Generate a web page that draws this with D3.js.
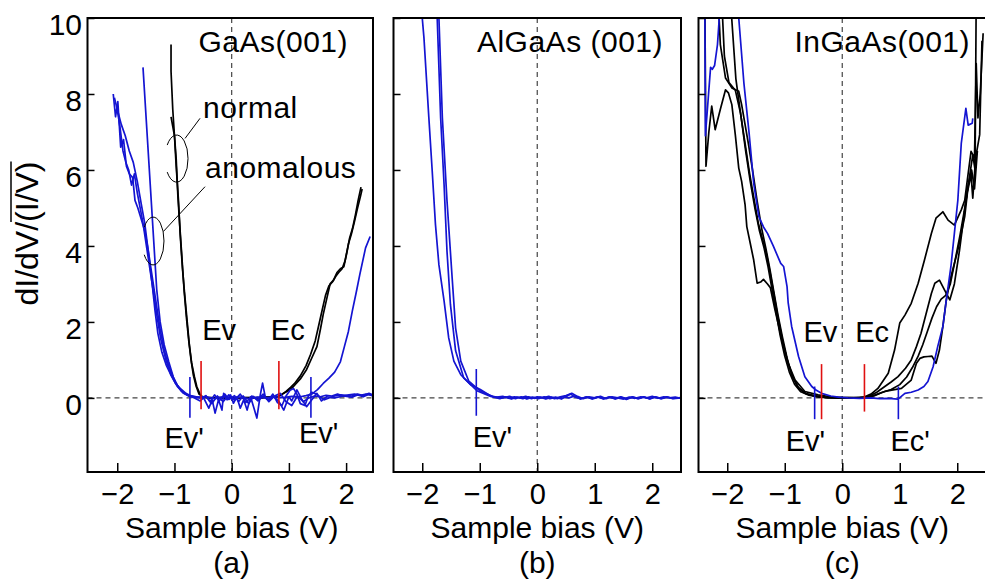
<!DOCTYPE html>
<html><head><meta charset="utf-8">
<script src="https://cdn.jsdelivr.net/npm/d3@7"></script>
<style>
body{margin:0;background:#fff}
svg{display:block}
text{font-family:"Liberation Sans",Arial,Helvetica,sans-serif;fill:#000}
</style>
</head><body>
<svg id="chart" width="985" height="584"></svg>
<script>
// ---------------- DATA ----------------
const xTicks = [-2, -1, 0, 1, 2];
const yTicks = [0, 2, 4, 6, 8, 10];
const panelTitles = ["GaAs(001)", "AlGaAs (001)", "InGaAs(001)"];
const panelLetters = ["(a)", "(b)", "(c)"];
const xLabel = "Sample bias (V)";
const yLabelPlain = "dI/dV/";
const yLabelOver = "(I/V)";

// Panel (a) GaAs(001)
const gaasBlue1 = [[-2.0,7.6],[-1.93,7.2],[-1.86,6.9],[-1.79,6.5],[-1.72,6.2],[-1.65,5.7],[-1.58,5.1],[-1.52,4.6],[-1.47,4.0],[-1.43,3.5],[-1.39,3.0],[-1.34,2.3],[-1.29,1.7],[-1.22,1.2],[-1.14,0.85],[-1.06,0.6],[-0.98,0.38],[-0.9,0.25],[-0.8,0.12],[-0.72,0.06],[-0.6,0.02],[-0.45,0.03],[-0.3,-0.02],[-0.15,0.03],[0.0,-0.01],[0.15,0.02],[0.3,-0.02],[0.45,0.02],[0.6,0.0],[0.75,0.03],[0.9,0.01],[1.05,0.04],[1.2,0.03],[1.3,0.06],[1.4,0.1],[1.5,0.22],[1.6,0.38],[1.7,0.52],[1.8,0.68],[1.9,0.95],[1.97,1.35],[2.04,1.75],[2.11,2.3],[2.18,2.8],[2.24,3.25],[2.29,3.6],[2.34,3.95],[2.42,4.25]];
const gaasBlue2 = [[-1.55,8.7],[-1.31,2.85],[-1.25,2.0],[-1.18,1.4],[-1.1,0.95],[-1.02,0.55],[-0.93,0.28],[-0.83,0.12],[-0.73,0.04],[-0.6,0.02],[-0.49,0.0],[-0.4,-0.27],[-0.34,-0.05],[-0.29,-0.4],[-0.23,-0.05],[-0.17,-0.32],[-0.14,0.12],[-0.08,-0.05],[-0.02,0.08],[0.03,-0.14],[0.09,0.03],[0.15,-0.27],[0.21,-0.05],[0.27,-0.32],[0.33,0.03],[0.39,-0.27],[0.44,-0.53],[0.5,0.08],[0.54,0.39],[0.59,0.0],[0.65,-0.05],[0.73,0.03],[0.82,-0.08],[0.91,-0.32],[1.0,0.03],[1.05,-0.08],[1.14,0.21],[1.23,-0.05],[1.31,-0.23],[1.4,-0.05],[1.49,0.12],[1.57,-0.08],[1.66,0.03],[1.8,0.0],[1.95,0.05],[2.1,0.02],[2.2,0.08],[2.3,0.03],[2.4,0.1],[2.47,0.05]];
const gaasBlue3 = [[-2.07,8.0],[-2.03,7.4],[-1.99,7.8],[-1.94,6.6],[-1.89,6.8],[-1.84,6.1],[-1.79,5.9],[-1.73,5.8],[-1.69,5.2],[-1.64,5.0],[-1.58,4.7],[-1.52,4.4],[-1.46,3.9],[-1.40,3.3],[-1.33,2.6],[-1.25,1.8],[-1.17,1.2],[-1.08,0.75],[-0.98,0.4],[-0.88,0.18],[-0.78,0.08],[-0.65,0.02],[-0.55,0.0],[-0.45,0.05],[-0.38,-0.1],[-0.3,0.08],[-0.22,-0.08],[-0.12,0.1],[-0.05,-0.04],[0.05,0.06],[0.12,-0.1],[0.2,0.05],[0.3,-0.15],[0.38,0.04],[0.46,-0.08],[0.55,0.05],[0.64,-0.06],[0.72,0.1],[0.8,-0.12],[0.88,-0.2],[0.95,0.05],[1.02,0.2],[1.08,0.25],[1.14,0.1],[1.2,-0.15],[1.28,-0.2],[1.34,0.05],[1.4,0.15],[1.48,0.1],[1.55,0.02],[1.62,-0.05],[1.7,0.0],[1.8,0.05],[1.9,0.08],[2.0,0.07],[2.1,0.05],[2.2,0.1],[2.3,0.06],[2.4,0.12],[2.47,0.08]];
const gaasBlue4 = [[-2.05,7.9],[-2.0,7.6],[-1.95,7.1],[-1.9,6.5],[-1.85,6.2],[-1.8,6.0],[-1.75,5.6],[-1.7,5.9],[-1.65,5.4],[-1.6,5.0],[-1.55,4.6],[-1.5,4.1],[-1.44,3.5],[-1.38,2.9],[-1.31,2.2],[-1.24,1.55],[-1.15,1.0],[-1.06,0.6],[-0.95,0.3],[-0.85,0.13],[-0.75,0.05],[-0.65,0.0],[-0.55,-0.08],[-0.45,0.06],[-0.35,-0.15],[-0.25,0.05],[-0.15,-0.1],[-0.05,0.08],[0.05,-0.06],[0.15,0.1],[0.25,-0.12],[0.35,0.05],[0.45,-0.05],[0.55,0.1],[0.65,-0.1],[0.75,0.05],[0.85,0.12],[0.95,-0.1],[1.05,-0.2],[1.15,0.05],[1.25,-0.1],[1.35,0.0],[1.45,0.05],[1.55,0.03],[1.65,0.07],[1.75,0.05],[1.85,0.1],[1.95,0.05],[2.05,0.08],[2.15,0.1],[2.25,0.07],[2.35,0.1],[2.47,0.06]];
const gaasBlack1 = [[-1.06,9.3],[-1.06,8.6],[-1.03,7.6],[-1.0,6.9],[-0.97,6.1],[-0.93,5.2],[-0.9,4.3],[-0.86,3.4],[-0.82,2.7],[-0.78,2.05],[-0.74,1.4],[-0.7,0.92],[-0.65,0.55],[-0.61,0.3],[-0.56,0.12],[-0.52,0.03],[-0.4,0.0],[-0.2,0.01],[0.0,0.0],[0.2,0.01],[0.4,0.0],[0.6,0.02],[0.75,0.02],[0.81,0.03],[0.91,0.12],[1.0,0.2],[1.08,0.3],[1.2,0.5],[1.31,0.75],[1.4,1.05],[1.49,1.35],[1.55,1.8],[1.6,2.2],[1.66,2.6],[1.72,3.0],[1.78,3.1],[1.84,3.3],[1.9,3.4],[1.96,3.45],[2.01,3.8],[2.06,4.2],[2.11,4.45],[2.16,4.8],[2.21,5.2],[2.26,5.55]];
const gaasBlack2 = [[-1.06,7.4],[-1.03,7.15],[-1.0,6.9],[-0.97,6.3],[-0.94,5.3],[-0.91,4.6],[-0.87,3.7],[-0.83,2.8],[-0.79,2.1],[-0.75,1.5],[-0.71,1.0],[-0.67,0.6],[-0.62,0.3],[-0.57,0.1],[-0.5,0.02],[-0.3,0.0],[-0.1,0.01],[0.1,0.0],[0.3,0.01],[0.5,0.0],[0.7,0.02],[0.8,0.03],[0.88,0.1],[0.95,0.17],[1.03,0.28],[1.1,0.38],[1.2,0.58],[1.3,0.85],[1.38,1.15],[1.46,1.5],[1.52,1.9],[1.58,2.3],[1.64,2.7],[1.7,2.95],[1.76,3.05],[1.82,3.2],[1.87,3.3],[1.93,3.4],[1.98,3.6],[2.04,4.05],[2.09,4.3],[2.14,4.6],[2.2,5.0],[2.25,5.3],[2.28,5.5]];
const gaasMarkers = [{x:-0.73,kind:"prime",y0:-0.52,y1:0.55},{x:-0.535,kind:"band",y0:-0.3,y1:0.97},{x:0.825,kind:"band",y0:-0.3,y1:0.97},{x:1.385,kind:"prime",y0:-0.52,y1:0.55}];
const gaasLabels = [{t:"Ev",x:-0.22,y:1.53},{t:"Ec",x:0.98,y:1.53},{t:"Ev'",x:-0.83,y:-1.32},{t:"Ev'",x:1.52,y:-1.18}];

// Panel (b) AlGaAs(001)
const algaasBlue1 = [[-2.0,10.0],[-1.97,9.47],[-1.885,7.37],[-1.83,6.05],[-1.77,4.56],[-1.71,3.5],[-1.62,2.55],[-1.54,1.58],[-1.45,0.97],[-1.33,0.61],[-1.16,0.35],[-0.99,0.22],[-0.81,0.05],[-0.7,0.02],[-0.6,0.04],[-0.5,-0.01],[-0.4,0.03],[-0.3,0.0],[-0.2,0.04],[-0.1,-0.02],[0.0,0.03],[0.1,0.0],[0.2,0.04],[0.3,-0.02],[0.4,0.03],[0.5,0.06],[0.6,0.12],[0.7,0.04],[0.8,-0.02],[0.9,0.03],[1.0,0.0],[1.1,0.04],[1.2,-0.02],[1.3,0.03],[1.4,0.0],[1.5,-0.03],[1.6,0.02],[1.7,-0.01],[1.8,0.03],[1.9,0.0],[2.0,0.04],[2.1,-0.01],[2.2,0.03],[2.3,0.0],[2.4,0.02],[2.5,-0.01]];
const algaasBlue2 = [[-1.74,10.0],[-1.68,7.37],[-1.62,5.6],[-1.57,3.87],[-1.51,2.46],[-1.42,1.24],[-1.28,0.53],[-1.04,0.18],[-0.81,0.04],[-0.65,-0.02],[-0.55,0.03],[-0.45,-0.03],[-0.35,0.02],[-0.25,-0.02],[-0.15,0.03],[-0.05,-0.01],[0.05,0.02],[0.15,-0.03],[0.25,0.02],[0.35,-0.02],[0.45,0.03],[0.55,0.0],[0.65,0.05],[0.75,-0.03],[0.85,0.02],[0.95,-0.02],[1.05,0.03],[1.15,-0.03],[1.25,0.02],[1.35,-0.02],[1.45,0.03],[1.55,-0.04],[1.65,0.02],[1.75,-0.02],[1.85,0.03],[1.95,-0.02],[2.05,0.02],[2.15,-0.02],[2.25,0.03],[2.35,-0.01],[2.5,0.01]];
const algaasBlue3 = [[-1.71,10.0],[-1.65,7.37],[-1.57,5.2],[-1.48,3.16],[-1.42,1.84],[-1.33,0.97],[-1.19,0.44],[-0.99,0.18],[-0.76,0.03],[-0.6,0.0],[-0.48,0.04],[-0.38,-0.02],[-0.28,0.03],[-0.18,-0.03],[-0.08,0.02],[0.02,-0.02],[0.12,0.03],[0.22,-0.02],[0.32,0.02],[0.42,-0.03],[0.52,0.05],[0.58,0.1],[0.66,0.02],[0.76,-0.02],[0.86,0.03],[0.96,-0.03],[1.06,0.02],[1.16,-0.02],[1.26,0.03],[1.36,-0.03],[1.46,0.02],[1.56,-0.02],[1.66,0.03],[1.76,-0.02],[1.86,0.02],[1.96,-0.03],[2.06,0.03],[2.16,-0.02],[2.26,0.02],[2.36,-0.02],[2.5,0.0]];
const algaasMarkers = [{x:-1.06,kind:"prime",y0:-0.47,y1:0.76}];
const algaasLabels = [{t:"Ev'",x:-0.78,y:-1.28}];

// Panel (c) InGaAs(001)
const ingaasBlue1 = [[-2.39,10.6],[-2.38,6.9],[-2.33,7.9],[-2.29,8.7],[-2.26,8.65],[-2.22,8.75],[-2.17,9.3],[-2.13,10.2],[-1.98,12.0],[-1.82,10.3],[-1.80,10.0],[-1.71,8.28],[-1.62,6.97],[-1.54,5.65],[-1.45,4.77],[-1.37,4.5],[-1.30,4.33],[-1.2,4.0],[-1.07,3.54],[-1.02,3.46],[-0.96,2.93],[-0.94,2.5],[-0.88,1.88],[-0.76,1.09],[-0.65,0.56],[-0.53,0.3],[-0.45,0.2],[-0.36,0.12],[-0.2,0.05],[-0.07,0.02],[0.1,0.0],[0.3,-0.01],[0.5,0.0],[0.65,-0.02],[0.8,-0.01],[0.97,-0.03],[1.09,0.12],[1.2,0.15],[1.32,0.21],[1.42,0.3],[1.49,0.43],[1.58,0.82],[1.66,1.35],[1.75,1.88],[1.81,2.58],[1.89,3.46],[1.95,4.33],[2.01,5.2],[2.07,6.7],[2.15,7.62],[2.19,7.18],[2.26,7.23],[2.27,7.36]];
const ingaasBlack1 = [[-2.39,10.6],[-2.38,8.4],[-2.37,6.1],[-2.32,7.0],[-2.27,7.68],[-2.21,7.06],[-2.12,7.6],[-2.03,8.11],[-1.98,8.03],[-1.92,7.72],[-1.86,6.93],[-1.80,6.05],[-1.75,5.70],[-1.69,5.09],[-1.66,4.51],[-1.60,4.07],[-1.54,3.63],[-1.48,3.02],[-1.42,3.05],[-1.37,3.12],[-1.30,3.0],[-1.25,2.9],[-1.17,2.32],[-1.05,1.53],[-0.94,0.91],[-0.82,0.47],[-0.65,0.17],[-0.42,0.08],[-0.2,0.03],[0.0,0.01],[0.2,0.0],[0.39,0.03],[0.5,0.1],[0.62,0.25],[0.8,0.65],[0.91,1.26],[1.0,1.97],[1.09,2.18],[1.2,2.49],[1.32,3.02],[1.43,3.63],[1.55,4.33],[1.63,4.73],[1.75,4.9],[1.84,4.68],[1.95,4.55],[2.07,4.95],[2.13,5.2],[2.18,5.79],[2.24,6.49],[2.3,6.32],[2.33,8.8],[2.36,7.37],[2.40,8.0],[2.45,9.6]];
const ingaasBlack2 = [[-2.16,10.6],[-2.12,9.3],[-2.03,8.42],[-1.92,8.16],[-1.80,8.07],[-1.75,7.72],[-1.63,6.67],[-1.55,5.9],[-1.48,5.18],[-1.40,4.45],[-1.33,3.95],[-1.26,3.4],[-1.19,2.8],[-1.12,2.2],[-1.04,1.6],[-0.96,1.05],[-0.88,0.62],[-0.78,0.3],[-0.66,0.13],[-0.5,0.06],[-0.3,0.02],[-0.1,0.0],[0.1,0.01],[0.3,0.0],[0.45,0.03],[0.6,0.15],[0.74,0.3],[0.85,0.42],[0.97,0.56],[1.1,0.78],[1.2,1.0],[1.29,1.35],[1.37,1.7],[1.43,2.05],[1.49,2.4],[1.55,2.75],[1.61,3.02],[1.69,3.1],[1.78,2.84],[1.87,2.58],[1.95,3.0],[2.04,3.89],[2.13,4.95],[2.21,5.79],[2.27,6.4],[2.31,6.0],[2.33,10.6]];
const ingaasBlack3 = [[-2.1,10.6],[-2.05,9.0],[-1.97,8.3],[-1.86,8.1],[-1.77,7.5],[-1.69,6.7],[-1.61,5.9],[-1.53,5.2],[-1.46,4.6],[-1.39,4.2],[-1.32,3.8],[-1.25,3.25],[-1.18,2.65],[-1.11,2.05],[-1.03,1.45],[-0.95,0.95],[-0.86,0.55],[-0.76,0.27],[-0.63,0.11],[-0.45,0.04],[-0.25,0.01],[0.0,0.0],[0.2,0.01],[0.35,0.0],[0.5,0.04],[0.74,0.17],[1.03,0.25],[1.2,0.47],[1.29,0.91],[1.35,1.04],[1.42,1.08],[1.49,1.09],[1.56,1.1],[1.63,0.91],[1.69,1.26],[1.75,1.88],[1.81,2.58],[1.89,3.19],[2.01,3.89],[2.13,4.77],[2.18,5.44],[2.24,5.88],[2.27,5.26],[2.32,6.32],[2.39,6.93],[2.43,9.4]];
const ingaasBlack4 = [[-1.95,10.6],[-1.85,8.4],[-1.76,7.4],[-1.68,6.5],[-1.6,5.7],[-1.52,5.0],[-1.44,4.4],[-1.36,3.95],[-1.29,3.45],[-1.22,2.85],[-1.15,2.25],[-1.08,1.65],[-1.0,1.1],[-0.92,0.68],[-0.83,0.36],[-0.72,0.16],[-0.58,0.07],[-0.4,0.02],[-0.2,0.0],[0.0,0.01],[0.2,0.0],[0.4,0.01],[0.55,0.05],[0.7,0.15],[0.85,0.22],[1.0,0.35],[1.12,0.55],[1.22,0.8],[1.32,1.1],[1.4,1.4],[1.48,1.75],[1.56,2.1],[1.64,2.4],[1.72,2.6],[1.8,2.7],[1.88,3.0],[1.96,3.6],[2.05,4.3],[2.12,4.9],[2.19,5.6],[2.25,6.0],[2.3,5.5],[2.35,6.5]];
const ingaasMarkers = [{x:-0.48,kind:"prime",y0:-0.56,y1:0.3},{x:-0.36,kind:"band",y0:-0.56,y1:0.89},{x:0.386,kind:"band",y0:-0.36,y1:0.89},{x:0.976,kind:"prime",y0:-0.56,y1:0.3}];
const ingaasLabels = [{t:"Ev",x:-0.38,y:1.47},{t:"Ec",x:0.52,y:1.47},{t:"Ev'",x:-0.64,y:-1.41},{t:"Ec'",x:1.18,y:-1.40}];

// Annotations in panel (a): ellipses around curve groups + leader lines
const groupNotes = [
  {t:"normal", tx:-0.5, ty:7.36, cx:-0.963, cy:6.30, rx:0.2, ry:0.62, lx1:-0.815, ly1:6.83, lx2:-0.553, ly2:7.36},
  {t:"anomalous", tx:-0.465, ty:5.78, cx:-1.373, cy:4.13, rx:0.19, ry:0.63, lx1:-1.194, ly1:4.38, lx2:-0.466, ly2:5.56}
];

// ---------------- DRAW ----------------
const BLUE = "#1414d2", BLACK = "#000", RED = "#e01010";
const svg = d3.select("#chart");
const plotTop = 18, plotBottom = 472;
const yScale = d3.scaleLinear().domain([-1.95, 10]).range([plotBottom, plotTop]);

const panels = [
  {x0:87.5, x1:373, dom:[-2.52,2.47], blue:[gaasBlue1,gaasBlue2,gaasBlue3,gaasBlue4], black:[gaasBlack1,gaasBlack2], markers:gaasMarkers, labels:gaasLabels, showY:true, titleRight:348},
  {x0:393.5, x1:681, dom:[-2.5,2.5], blue:[algaasBlue1,algaasBlue2,algaasBlue3], black:[], markers:algaasMarkers, labels:algaasLabels, showY:false, titleRight:663},
  {x0:698.5, x1:986, dom:[-2.5,2.5], blue:[ingaasBlue1], black:[ingaasBlack1,ingaasBlack2,ingaasBlack3,ingaasBlack4], markers:ingaasMarkers, labels:ingaasLabels, showY:false, titleRight:970}
];

panels.forEach((p, i) => {
  const x = d3.scaleLinear().domain(p.dom).range([p.x0, p.x1]);
  const y = yScale;
  const g = svg.append("g");
  const clipId = "clip" + i;
  svg.append("clipPath").attr("id", clipId).append("rect")
    .attr("x", p.x0).attr("y", plotTop).attr("width", p.x1 - p.x0).attr("height", plotBottom - plotTop);
  const plot = g.append("g").attr("clip-path", `url(#${clipId})`);

  plot.append("line").attr("x1", x(0)).attr("x2", x(0)).attr("y1", plotTop).attr("y2", plotBottom)
    .attr("stroke", "#444").attr("stroke-width", 1.2).attr("stroke-dasharray", "5,4");
  plot.append("line").attr("x1", p.x0).attr("x2", p.x1).attr("y1", y(0)).attr("y2", y(0))
    .attr("stroke", "#444").attr("stroke-width", 1.2).attr("stroke-dasharray", "5,4");

  const line = d3.line().x(d => x(d[0])).y(d => y(d[1]));
  p.black.forEach(s => plot.append("path").attr("d", line(s)).attr("fill", "none")
    .attr("stroke", BLACK).attr("stroke-width", 1.7).attr("stroke-linejoin", "round"));
  p.blue.forEach(s => plot.append("path").attr("d", line(s)).attr("fill", "none")
    .attr("stroke", BLUE).attr("stroke-width", 1.7).attr("stroke-linejoin", "round"));

  p.markers.forEach(m => plot.append("line").attr("x1", x(m.x)).attr("x2", x(m.x))
    .attr("y1", y(m.y0)).attr("y2", y(m.y1))
    .attr("stroke", m.kind === "band" ? RED : BLUE).attr("stroke-width", 1.6));

  p.labels.forEach(l => g.append("text").attr("x", x(l.x)).attr("y", y(l.y))
    .attr("text-anchor", "middle").style("font-size", "29px").text(l.t));

  const ax = g.append("g").attr("transform", `translate(0,${plotBottom})`)
    .call(d3.axisBottom(x).tickValues(xTicks).tickSize(-9).tickPadding(11.4).tickFormat(d3.format("d")));
  ax.select(".domain").remove();
  ax.selectAll("line").attr("stroke", "#000").attr("stroke-width", 1.5);
  ax.selectAll("text").style("font-size", "29px").attr("fill", "#000").attr("font-family", null);

  const ay = g.append("g").attr("transform", `translate(${p.x0},0)`)
    .call(d3.axisLeft(y).tickValues(yTicks).tickSize(-7).tickPadding(5.5)
      .tickFormat(p.showY ? d3.format("d") : () => ""));
  ay.select(".domain").remove();
  ay.selectAll("line").attr("stroke", "#000").attr("stroke-width", 1.5);
  ay.selectAll("text").style("font-size", "30px").attr("dy", "0.55em").attr("fill", "#000").attr("font-family", null);

  g.append("rect").attr("x", p.x0).attr("y", plotTop).attr("width", p.x1 - p.x0).attr("height", plotBottom - plotTop)
    .attr("fill", "none").attr("stroke", "#000").attr("stroke-width", 2);

  g.append("text").attr("x", p.titleRight).attr("y", 52).attr("text-anchor", "end")
    .style("font-size", "30px").style("letter-spacing", "0.5px").text(panelTitles[i]);

  const cx = (x(xTicks[0]) + x(xTicks[xTicks.length - 1])) / 2;
  g.append("text").attr("x", cx).attr("y", 538).attr("text-anchor", "middle")
    .style("font-size", "30px").text(xLabel);
  g.append("text").attr("x", cx).attr("y", 573).attr("text-anchor", "middle")
    .style("font-size", "30px").text(panelLetters[i]);

  if (i === 0) {
    groupNotes.forEach(n => {
      const ecx = x(n.cx), ecy = y(n.cy);
      const erx = x(n.cx + n.rx) - ecx, ery = y(n.cy - n.ry) - ecy;
      const a0 = 215 * Math.PI / 180, a1 = 145 * Math.PI / 180;
      const sx = ecx + erx * Math.cos(a0), sy = ecy + ery * Math.sin(a0);
      const exx = ecx + erx * Math.cos(a1), eyy = ecy + ery * Math.sin(a1);
      g.append("path").attr("d", `M${sx},${sy} A${erx},${ery} 0 1 1 ${exx},${eyy}`)
        .attr("fill", "none").attr("stroke", "#000").attr("stroke-width", 1);
      g.append("line").attr("x1", x(n.lx1)).attr("y1", y(n.ly1)).attr("x2", x(n.lx2)).attr("y2", y(n.ly2))
        .attr("stroke", "#000").attr("stroke-width", 1);
      g.append("text").attr("x", x(n.tx)).attr("y", y(n.ty)).style("font-size", "30px")
        .style("letter-spacing", "0.5px").text(n.t);
    });
  }
});

const ytG = svg.append("g").attr("transform", "translate(38,233.5) rotate(-90)");
const yt = ytG.append("text").attr("text-anchor", "middle").style("font-size", "32px")
  .text(yLabelPlain + yLabelOver);
const node = yt.node();
const full = node.getComputedTextLength();
const startOff = node.getSubStringLength(0, yLabelPlain.length);
ytG.append("line").attr("x1", -full / 2 + startOff).attr("x2", full / 2)
  .attr("y1", -27).attr("y2", -27).attr("stroke", "#000").attr("stroke-width", 1.5);
</script>
</body></html>
